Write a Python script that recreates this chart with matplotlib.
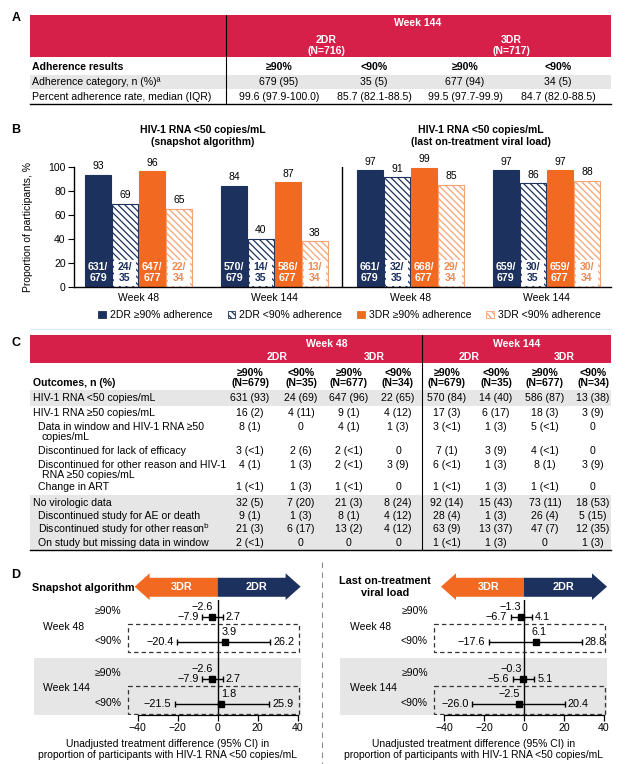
import matplotlib
matplotlib.use('Agg')
import numpy as np
import matplotlib.pyplot as plt
from matplotlib.patches import Rectangle, Polygon, Patch

plt.rcParams['font.family'] = ['Liberation Sans', 'DejaVu Sans']
plt.rcParams['hatch.linewidth'] = 0.9
plt.rcParams['axes.unicode_minus'] = True

# ---------------- data ----------------
# Panel A
a_week = 'Week 144'
a_groups = ['2DR\n(N=716)', '3DR\n(N=717)']
a_cols = ['≥90%', '<90%', '≥90%', '<90%']
a_row_labels = ['Adherence category, n (%)ª', 'Percent adherence rate, median (IQR)']
a_category = ['679 (95)', '35 (5)', '677 (94)', '34 (5)']
a_rate = ['99.6 (97.9-100.0)', '85.7 (82.1-88.5)', '99.5 (97.7-99.9)', '84.7 (82.0-88.5)']

# Panel B
b_titles = ['HIV-1 RNA <50 copies/mL\n(snapshot algorithm)',
            'HIV-1 RNA <50 copies/mL\n(last on-treatment viral load)']
b_weeks = ['Week 48', 'Week 144', 'Week 48', 'Week 144']
b_series = ['2DR ≥90% adherence', '2DR <90% adherence', '3DR ≥90% adherence', '3DR <90% adherence']
b_2dr_hi = [93, 84, 97, 97]
b_2dr_lo = [69, 40, 91, 86]
b_3dr_hi = [96, 87, 99, 97]
b_3dr_lo = [65, 38, 85, 88]
b_2dr_hi_n = [631, 570, 661, 659]
b_2dr_lo_n = [24, 14, 32, 30]
b_3dr_hi_n = [647, 586, 668, 659]
b_3dr_lo_n = [22, 13, 29, 30]
b_N = [679, 35, 677, 34]

# Panel C
c_weeks = ['Week 48', 'Week 144']
c_arms = ['2DR', '3DR']
c_adh = ['≥90%', '<90%']
c_N = [679, 35, 677, 34]
c_row_labels = ['HIV-1 RNA <50 copies/mL', 'HIV-1 RNA ≥50 copies/mL',
                'Data in window and HIV-1 RNA ≥50\ncopies/mL',
                'Discontinued for lack of efficacy',
                'Discontinued for other reason and HIV-1\nRNA ≥50 copies/mL',
                'Change in ART', 'No virologic data',
                'Discontinued study for AE or death',
                'Discontinued study for other reason$^{\\rm b}$',
                'On study but missing data in window']
c_indent = [0, 0, 1, 1, 1, 1, 0, 1, 1, 1]
c_rna_lt50 = ['631 (93)', '24 (69)', '647 (96)', '22 (65)', '570 (84)', '14 (40)', '586 (87)', '13 (38)']
c_rna_ge50 = ['16 (2)', '4 (11)', '9 (1)', '4 (12)', '17 (3)', '6 (17)', '18 (3)', '3 (9)']
c_data_window = ['8 (1)', '0', '4 (1)', '1 (3)', '3 (<1)', '1 (3)', '5 (<1)', '0']
c_disc_efficacy = ['3 (<1)', '2 (6)', '2 (<1)', '0', '7 (1)', '3 (9)', '4 (<1)', '0']
c_disc_other_rna = ['4 (1)', '1 (3)', '2 (<1)', '3 (9)', '6 (<1)', '1 (3)', '8 (1)', '3 (9)']
c_change_art = ['1 (<1)', '1 (3)', '1 (<1)', '0', '1 (<1)', '1 (3)', '1 (<1)', '0']
c_no_data = ['32 (5)', '7 (20)', '21 (3)', '8 (24)', '92 (14)', '15 (43)', '73 (11)', '18 (53)']
c_disc_ae = ['9 (1)', '1 (3)', '8 (1)', '4 (12)', '28 (4)', '1 (3)', '26 (4)', '5 (15)']
c_disc_other = ['21 (3)', '6 (17)', '13 (2)', '4 (12)', '63 (9)', '13 (37)', '47 (7)', '12 (35)']
c_missing = ['2 (<1)', '0', '0', '0', '1 (<1)', '1 (3)', '0', '1 (3)']

# Panel D
d_weeks = ['Week 48', 'Week 144']
d_adh = ['≥90%', '<90%', '≥90%', '<90%']
snap_est = [-2.6, 3.9, -2.6, 1.8]
snap_lo = [-7.9, -20.4, -7.9, -21.5]
snap_hi = [2.7, 26.2, 2.7, 25.9]
last_est = [-1.3, 6.1, -0.3, -2.5]
last_lo = [-6.7, -17.6, -5.6, -26.0]
last_hi = [4.1, 28.8, 5.1, 20.4]

# ---------------- style ----------------
RED = '#D61F49'
NAVY = '#1D315E'
ORANGE = '#F26A22'
LORANGE = '#F4A276'
LORANGE_TXT = '#EE8A50'
GREY = '#E6E6E6'
W, H = 642, 764
FT = 7.6
FB = 7.5

fig = plt.figure(figsize=(W / 100, H / 100), dpi=100)
ov = fig.add_axes([0, 0, 1, 1])
ov.set_xlim(0, W)
ov.set_ylim(H, 0)
ov.axis('off')


def px_axes(l, t, r, b):
    return fig.add_axes([l / W, 1 - b / H, (r - l) / W, (b - t) / H])


def fmt(v):
    return f'{v:.1f}'.replace('-', '\u2212')


for lab, y in zip('ABCD', [18.3, 130, 343.3, 575]):
    ov.text(15.7, y, lab, ha='center', va='center', fontsize=9, fontweight='bold')

# ---------------- Panel A ----------------
TL, TR = 30, 611
ov.add_patch(Rectangle((TL, 15), TR - TL, 42.3, color=RED, lw=0))
ov.add_patch(Rectangle((TL, 75), TR - TL, 14.3, color=GREY, lw=0))
ov.plot([226, 226], [15, 104], color='black', lw=0.8)
ov.plot([TL, TR], [104, 104], color='black', lw=1.0)
ov.text(418, 23.3, a_week, ha='center', va='center', color='white', fontsize=FT, fontweight='bold')
a_colx = [279, 374, 465, 558]
for gi, g in enumerate(a_groups):
    gx = (a_colx[2 * gi] + a_colx[2 * gi + 1]) / 2
    ov.text(gx, 45.5, g, ha='center', va='center', color='white', fontsize=FT,
            fontweight='bold', linespacing=1.15)
ov.text(32, 66.7, 'Adherence results', ha='left', va='center', fontsize=FT, fontweight='bold')
for cx, c in zip(a_colx, a_cols):
    ov.text(cx, 66.7, c, ha='center', va='center', fontsize=FT, fontweight='bold')
for y, lab, vals in zip([81.9, 97.3], a_row_labels, [a_category, a_rate]):
    ov.text(32, y, lab, ha='left', va='center', fontsize=FT)
    for cx, v in zip(a_colx, vals):
        ov.text(cx, y, v, ha='center', va='center', fontsize=FT)

# ---------------- Panel B ----------------
ax = px_axes(74, 166.7, 611, 286.7)
series_vals = [b_2dr_hi, b_2dr_lo, b_3dr_hi, b_3dr_lo]
series_n = [b_2dr_hi_n, b_2dr_lo_n, b_3dr_hi_n, b_3dr_lo_n]
faces = [NAVY, 'white', ORANGE, 'white']
edges = [NAVY, NAVY, ORANGE, LORANGE]
hatches = [None, '\\' * 5, None, '\\' * 5]
lblcol = ['white', NAVY, 'white', LORANGE_TXT]
bw, step = 0.19, 0.1985
xg = np.arange(len(b_weeks))
for i in range(4):
    xs = xg + (i - 1.5) * step
    ax.bar(xs, series_vals[i], width=bw, color=faces[i], edgecolor=edges[i],
           hatch=hatches[i], lw=0.8, zorder=2)
    for xx, v, n in zip(xs, series_vals[i], series_n[i]):
        ax.text(xx, v + 3.0, str(v), ha='center', va='bottom', fontsize=FB)
        if hatches[i]:
            ax.add_patch(Rectangle((xx - bw * 0.42, 0.6), bw * 0.84, 21.5, color='white', lw=0, zorder=3))
        ax.text(xx, 11.6, f'{n}/\n{b_N[i]}', ha='center', va='center', fontsize=7.6,
                fontweight='bold', color=lblcol[i], linespacing=1.1, zorder=4)
ax.set_xlim(-0.474, 3.475)
ax.set_ylim(0, 100)
ax.set_yticks([0, 20, 40, 60, 80, 100])
ax.tick_params(axis='y', labelsize=FB, length=4, width=0.8, pad=2)
ax.set_xticks(xg)
ax.set_xticklabels(b_weeks, fontsize=FB)
ax.tick_params(axis='x', length=0, pad=4.5)
for s in ['top', 'right']:
    ax.spines[s].set_visible(False)
for s in ['left', 'bottom']:
    ax.spines[s].set_linewidth(1.0)
ax.axvline(1.5, color='black', lw=1.0)
ax.set_ylabel('Proportion of participants, %', fontsize=FB, labelpad=11)
for tx, t in zip([203, 481], b_titles):
    ov.text(tx, 136.2, t, ha='center', va='center', fontsize=FB, fontweight='bold', linespacing=1.2)
handles = [Patch(facecolor=faces[i], edgecolor=edges[i], hatch=hatches[i], lw=0.6, label=b_series[i])
           for i in range(4)]
fig.legend(handles=handles, loc='center', bbox_to_anchor=(349.5 / W, 1 - 315 / H), ncol=4,
           frameon=False, fontsize=FB, handlelength=0.75, handleheight=0.75,
           handletextpad=0.35, columnspacing=1.45, borderaxespad=0, borderpad=0)
ov.plot([TL, TR], [328.5, 328.5], color='#dfeaf3', lw=1.0)

# ---------------- Panel C ----------------
ov.add_patch(Rectangle((TL, 335), TR - TL, 28.3, color=RED, lw=0))
ov.add_patch(Rectangle((TL, 390), TR - TL, 16, color=GREY, lw=0))
ov.add_patch(Rectangle((TL, 495), TR - TL, 55, color=GREY, lw=0))
ov.plot([421.5, 421.5], [335, 550], color='black', lw=0.8)
ov.plot([TL, TR], [550, 550], color='black', lw=1.0)
c_colx = [250, 301, 349, 398, 447, 496, 545, 593]
for wi, wk in enumerate(c_weeks):
    ov.text([326.4, 517][wi], 344, wk, ha='center', va='center', color='white', fontsize=FT, fontweight='bold')
    for ai, arm in enumerate(c_arms):
        gx = [277, 374, 469, 564][wi * 2 + ai]
        ov.text(gx, 356.7, arm, ha='center', va='center', color='white', fontsize=FT, fontweight='bold')
for k, cx in enumerate(c_colx):
    ov.text(cx, 377.7, f'{c_adh[k % 2]}\n(N={c_N[k % 4]})', ha='center', va='center',
            fontsize=FT, fontweight='bold', linespacing=0.98)
ov.text(33, 382.7, 'Outcomes, n (%)', ha='left', va='center', fontsize=FT, fontweight='bold')
c_values = [c_rna_lt50, c_rna_ge50, c_data_window, c_disc_efficacy, c_disc_other_rna,
            c_change_art, c_no_data, c_disc_ae, c_disc_other, c_missing]
c_rowy = [398.3, 413.3, 427.3, 450.7, 464.7, 487.3, 503.3, 516.2, 529.5, 542.7]
for y, lab, ind, vals in zip(c_rowy, c_row_labels, c_indent, c_values):
    x0 = 38.5 if ind else 33
    for li, line in enumerate(lab.split('\n')):
        ov.text(x0 + (3 if li else 0), y + li * 10.2, line, ha='left', va='center', fontsize=FT)
    for cx, v in zip(c_colx, vals):
        ov.text(cx, y, v, ha='center', va='center', fontsize=FT)

# ---------------- Panel D ----------------
rows = [0, 1, 2.5, 3.5]
XL, XR = -92, 41.6
YT, YB = 3.955, -0.70
ov.plot([322, 322], [562, 764], color='#8a8a8a', lw=0.8, ls=(0, (5, 4)))


def forest(l, est, lo, hi):
    a = px_axes(l, 600, l + (XR - XL) * 2, 715)
    a.set_xlim(XL, XR)
    a.set_ylim(YT, YB)
    a.axhspan(1.63, YT, color=GREY, lw=0, zorder=0)
    a.axvline(0, color='black', lw=1.0, zorder=2)
    for s in ['top', 'right', 'left']:
        a.spines[s].set_visible(False)
    a.spines['bottom'].set_bounds(-40, 40)
    a.spines['bottom'].set_linewidth(0.9)
    a.set_yticks([])
    a.set_xticks([-40, -20, 0, 20, 40])
    a.tick_params(axis='x', labelsize=7.6, length=4, width=0.9, pad=2)
    a.set_xlabel('Unadjusted treatment difference (95% CI) in\n'
                 'proportion of participants with HIV-1 RNA <50 copies/mL',
                 fontsize=7.5, labelpad=4, linespacing=1.15)
    xerr = [np.subtract(est, lo), np.subtract(hi, est)]
    a.errorbar(est, rows, xerr=xerr, fmt='s', color='black', ms=5, capsize=2.5,
               elinewidth=1.0, capthick=1.0, zorder=4)
    for r, e, lw_, hw in zip(rows, est, lo, hi):
        if e < 0:
            a.text(min(e + 0.3, -1.2), r - 0.4, fmt(e), ha='right', va='center', fontsize=7.8)
        else:
            a.text(max(e - 2.5, 1.8), r - 0.4, fmt(e), ha='left', va='center', fontsize=7.8)
        a.text(lw_ - 1.7, r, fmt(lw_), ha='right', va='center', fontsize=7.8)
        a.text(hw + 1.5, r, fmt(hw), ha='left', va='center', fontsize=7.8)
    for k, (r, lab) in enumerate(zip(rows, d_adh)):
        a.text(-48, r - (0.25 if k % 2 == 0 else 0.05), lab, ha='right', va='center', fontsize=7.5)
        if k % 2 == 1:
            a.add_patch(Rectangle((-45, r - 0.72), 85.5, 1.13, fill=False, ls=(0, (3.5, 2.5)),
                                  lw=0.9, edgecolor='#333333', zorder=3))
    for wk, yy in zip(d_weeks, [0.38, 2.85]):
        a.text(-87.2, yy, wk, ha='left', va='center', fontsize=7.5)
    # direction arrow
    ym, yt, yb, bt, bb, hl = -1.24, -1.78, -0.70, -1.60, -0.83, 7.5
    left = [(0, bt), (-41.5 + hl, bt), (-41.5 + hl, yt), (-41.5, ym), (-41.5 + hl, yb), (-41.5 + hl, bb), (0, bb)]
    right = [(0, bt), (41.5 - hl, bt), (41.5 - hl, yt), (41.5, ym), (41.5 - hl, yb), (41.5 - hl, bb), (0, bb)]
    a.add_patch(Polygon(left, closed=True, color=ORANGE, lw=0, clip_on=False))
    a.add_patch(Polygon(right, closed=True, color=NAVY, lw=0, clip_on=False))
    a.text(-17.8, ym, '3DR', ha='center', va='center', color='white', fontsize=7.8, fontweight='bold')
    a.text(19.7, ym, '2DR', ha='center', va='center', color='white', fontsize=7.8, fontweight='bold')
    return a


forest(33.6, snap_est, snap_lo, snap_hi)
forest(340, last_est, last_lo, last_hi)
ov.text(31.7, 587.7, 'Snapshot algorithm', ha='left', va='center', fontsize=7.8, fontweight='bold')
ov.text(385, 586.7, 'Last on-treatment\nviral load', ha='center', va='center', fontsize=7.8,
        fontweight='bold', linespacing=1.3)

fig.savefig('out.png', dpi=100, facecolor='white')
